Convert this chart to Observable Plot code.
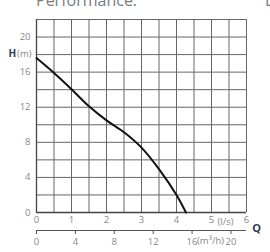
<!DOCTYPE html>
<html><head><meta charset="utf-8">
<script src="https://cdn.jsdelivr.net/npm/d3@7"></script>
<script src="https://cdn.jsdelivr.net/npm/@observablehq/plot@0.6"></script>
<style>
html,body{margin:0;padding:0;background:#fff;}
body{position:relative;width:270px;height:252px;overflow:hidden;font-family:"Open Sans",sans-serif;}
.ttl{position:absolute;top:-8px;font-size:16px;line-height:16px;color:#7a7a7a;white-space:nowrap;}
</style></head>
<body>
<div class="ttl" style="left:36px">Performance:</div>
<div class="ttl" style="left:265px">D</div>
<div id="chart"></div>
<script>
// Pump curve: flow Q (l/s) vs head H (m)
const flowLs = [0, 0.5, 1, 1.5, 2, 2.5, 3, 3.5, 4, 4.27];
const headM  = [17.6, 15.9, 14.05, 12.1, 10.5, 9.15, 7.4, 4.95, 2.0, 0];
const xTicks = [0, 1, 2, 3, 4, 5, 6];
const yTicks = [0, 4, 8, 12, 16, 20];
const m3hTicks = [0, 4, 8, 12, 16, 20];
const xGrid = [0, 0.5, 1, 1.5, 2, 2.5, 3, 3.5, 4, 4.5, 5, 5.5, 6];
const yGrid = [0, 2, 4, 6, 8, 10, 12, 14, 16, 18, 20, 22];

const curve = flowLs.map((q, i) => ({q, h: headM[i]}));
const secondAxis = [{y: 0, x1: 0, x2: 6}];

const chart = Plot.plot({
  width: 270, height: 252,
  marginLeft: 36, marginRight: 24, marginTop: 19, marginBottom: 40,
  x: {domain: [0, 6]},
  y: {domain: [0, 22]},
  style: {fontFamily: "Open Sans, sans-serif", fontSize: "9.5px", color: "#888", background: "white", overflow: "visible"},
  marks: [
    Plot.ruleX(xGrid, {stroke: "#666", strokeWidth: 1}),
    Plot.ruleY(yGrid, {stroke: "#666", strokeWidth: 1}),
    Plot.ruleX([0], {stroke: "#444", strokeWidth: 1.3}),
    Plot.ruleY([0], {stroke: "#444", strokeWidth: 1.3}),
    Plot.line(curve, {x: "q", y: "h", curve: "catmull-rom", stroke: "#111", strokeWidth: 2}),
    Plot.axisY({ticks: yTicks, tickSize: 0, tickPadding: 6, label: null, fill: "#888"}),
    Plot.axisX({ticks: xTicks, tickFormat: d => String(d), tickSize: 0, tickPadding: 4, label: null, fill: "#888"}),
    Plot.ruleY(secondAxis, {y: "y", x1: "x1", x2: "x2", dy: 18, stroke: "#555", strokeWidth: 1.2}),
    Plot.axisX({ticks: m3hTicks.map(v => v / 3.6), tickFormat: d => String(Math.round(d * 3.6)), tickSize: 4, tickPadding: 4, dy: 18, label: null, fill: "#888", stroke: "#555"}),
    Plot.text([{q: 5, h: 0, t: "(l/s)"}], {x: "q", y: "h", text: "t", dx: 6, dy: 9, textAnchor: "start", fill: "#888"}),
    Plot.text([{q: 16 / 3.6, h: 0, t: "(m³/h)"}], {x: "q", y: "h", text: "t", dx: 5, dy: 28, textAnchor: "start", fill: "#888"}),
    Plot.text([{q: 6, h: 0, t: "Q"}], {x: "q", y: "h", text: "t", dx: 10, dy: 16, textAnchor: "middle", fill: "#2e3a4f", fontWeight: "bold", fontSize: 11}),
    Plot.text([{q: 0, h: 18, t: "H"}], {x: "q", y: "h", text: "t", dx: -28, dy: -1, textAnchor: "start", fill: "#2e3a4f", fontWeight: "bold", fontSize: 10}),
    Plot.text([{q: 0, h: 18, t: "(m)"}], {x: "q", y: "h", text: "t", dx: -5, dy: -1, textAnchor: "end", fill: "#888"})
  ]
});
document.getElementById("chart").appendChild(chart);
</script>
</body></html>
